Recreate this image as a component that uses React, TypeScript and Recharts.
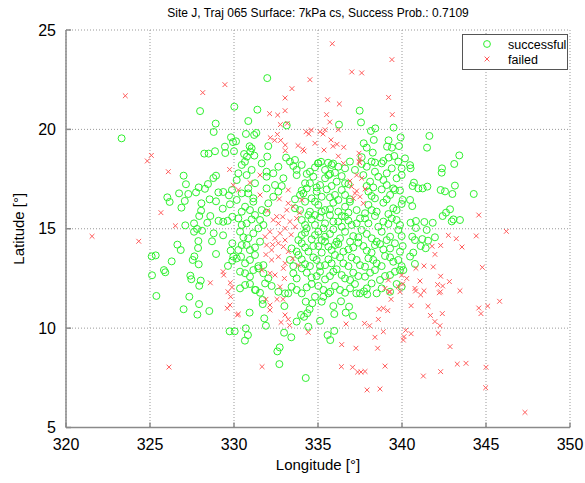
import React from "react";
import {
  ScatterChart,
  Scatter,
  XAxis,
  YAxis,
  CartesianGrid,
  Legend,
} from "recharts";

// [longitude, latitude]
const successfulOuter: [number, number][] = [
  [327.98,20.92],[330.02,21.14],[328.91,20.29],[328.79,19.87],[323.31,19.55],[329.82,19.6],[329.94,19.36],[329.46,19.13],[330.0,18.9],[328.23,18.78],[328.49,18.78],[328.87,18.9],[329.48,18.81],
  [331.98,22.58],[331.39,20.99],[337.48,20.94],[330.85,20.42],[337.56,20.35],[333.14,20.2],[336.25,20.24],[339.5,20.09],[330.71,19.77],[331.33,19.82],[331.2,19.72],[338.15,19.92],[338.41,20.05],[338.32,19.47],[339.2,19.45],[339.92,19.6],[330.12,19.4],[330.93,19.15],[331.05,19.05],[330.97,18.88],[332.04,19.16],[337.72,19.3],[337.9,19.08],[338.26,18.83],[339.11,19.13],[339.4,19.08],[339.82,19.16],[330.6,18.76],[330.77,18.63],[331.98,18.63],[333.1,18.58],[333.63,18.46],[330.65,18.37],[331.21,18.68],[337.6,18.6],[338.39,18.33],[338.89,18.41],[339.21,18.58],[339.54,18.66],[335.18,18.37],[335.0,18.3],[335.6,18.32],[335.9,18.28],
  [341.63,19.67],[341.49,19.08],[340.18,18.54],[343.41,18.69],[343.11,18.26],[340.48,18.2],
  [327.0,17.67],[327.14,17.24],[328.77,17.55],[328.93,17.67],[328.45,17.25],[327.9,17.08],[328.27,17.01],[327.74,16.83],[326.73,16.78],[326.03,16.58],[326.17,16.35],[327.28,16.75],[327.07,16.4],[326.87,16.06],[328.06,16.28],[328.55,16.48],[328.93,16.38],[329.36,16.85],[329.07,16.83],[329.7,16.68],[329.76,16.23],[329.88,16.95],[329.33,16.01],[328.04,15.91],[327.93,15.64],[328.59,15.64],[328.41,15.3],[327.62,15.27],[327.1,15.17],[327.8,14.99],[327.62,14.85],[328.1,14.9],[329.08,15.4],[329.36,15.35],[329.62,15.4],[328.79,14.77],[329.35,14.67],[328.69,14.37],[327.88,14.38],[327.86,14.03],[326.63,14.2],[326.83,13.93],[327.64,13.61],[327.54,13.43],[327.9,13.21],[326.29,13.36],[325.1,13.61],[325.34,13.66],[328.93,13.73],[325.83,12.92],[325.91,12.81],[325.12,12.66],[327.4,12.64],[327.46,12.46],[328.02,12.39],[327.93,12.13],[329.64,13.13],[325.38,11.62],[329.9,15.6],[329.9,14.27],[329.8,13.9],[329.96,13.6],[329.9,13.4],
  [327.34,11.58],[327.92,11.21],[327.0,10.95],[327.82,10.68],[328.53,10.86],[329.74,9.84],[330.04,9.84],
  [331.29,11.92],[331.71,11.21],[330.93,10.78],[331.8,10.49],[331.9,10.12],[330.7,9.99],[330.83,9.65],[330.65,9.37],[332.98,9.77],[333.41,9.54],[332.72,9.03],[332.58,8.83],[332.7,8.19],[334.27,7.49],[333.73,10.33],[333.99,10.66],[334.17,10.57],[334.42,10.07],[334.5,10.95],[334.27,11.33],[334.82,11.58],[334.66,11.25],[335.12,10.37],[335.22,11.33],[335.32,11.58],[335.57,9.65],[335.73,9.4],[335.97,9.86],[335.97,10.71],[335.91,11.11],[336.37,11.35],[336.65,10.78],[336.85,11.08],[337.08,10.61],[335.73,11.83],[337.28,11.75],[337.93,11.7],[337.74,11.85],[333.23,11.75],[334.36,10.75],[331.7,11.42],[333.0,11.11],
  [342.38,18.04],[342.36,17.82],[340.51,18.04],[340.71,17.32],[340.63,17.15],[340.97,17.03],[341.23,17.03],[341.51,17.12],[342.3,16.95],[342.56,16.88],[343.0,16.75],[343.15,17.17],[344.27,16.75],[340.04,16.45],[340.48,16.45],[340.61,16.14],[342.86,15.98],[342.62,15.81],[342.42,15.64],[343.06,15.47],[343.45,15.44],[342.96,15.37],[340.51,15.3],[340.83,15.39],[340.83,15.04],[341.33,15.34],[341.83,15.3],[341.47,14.94],[341.96,14.57],[340.61,14.6],[340.77,14.43],[341.21,14.48],[341.55,14.4],[341.11,14.13],[341.41,14.02],[340.04,14.13],[340.67,13.8],[340.48,13.6],[340.77,13.23],[340.08,12.92],
];

const successfulCore: [number, number][] = [
  [330.46,18.21],[331.05,17.96],[331.65,18.29],[331.94,17.87],[332.64,18.12],[333.33,18.38],[333.73,17.96],[334.03,18.21],[334.52,17.87],[335.02,18.29],[335.42,17.96],[335.81,18.21],[336.01,17.82],[336.61,18.04],[336.9,18.38],[337.9,18.12],[338.39,17.87],[338.79,18.29],[339.39,18.04],[339.78,18.38],
  [330.16,17.45],[330.75,17.7],[331.25,17.29],[331.94,17.62],[332.44,17.2],[332.94,17.54],[333.73,17.7],[334.23,17.29],[334.72,17.62],[335.12,17.2],[335.42,17.54],[335.71,17.76],[336.11,17.37],[336.41,17.65],[336.81,17.25],[337.7,17.7],[338.1,17.37],[338.59,17.62],[339.09,17.2],[339.68,17.54],[339.98,17.7],
  [330.46,16.78],[331.15,16.53],[331.94,17.03],[332.34,16.61],[332.64,16.87],[333.93,16.7],[334.33,17.03],[334.62,16.53],[334.92,16.87],[335.22,16.61],[335.52,16.98],[336.01,16.7],[336.41,16.95],[336.9,16.48],[338.0,16.87],[338.39,16.53],[338.79,16.98],[339.29,16.7],[339.88,16.92],
  [330.66,16.11],[331.15,16.36],[331.65,15.94],[332.04,16.28],[333.63,16.03],[334.23,16.36],[334.52,15.86],[335.02,16.2],[335.42,15.94],[335.91,16.31],[336.21,15.86],[336.61,16.11],[336.9,16.36],[337.3,15.94],[338.0,16.2],[338.49,15.86],[338.89,16.31],[339.48,16.03],[339.98,16.25],
  [330.26,15.52],[330.75,15.27],[331.25,15.69],[331.75,15.19],[334.03,15.44],[334.43,15.69],[334.82,15.19],[335.12,15.57],[335.42,15.27],[335.71,15.69],[336.21,15.36],[336.61,15.61],[337.0,15.19],[337.5,15.52],[338.0,15.27],[338.39,15.64],[338.89,15.36],[339.39,15.52],[339.88,15.19],
  [330.36,14.85],[330.85,14.52],[331.45,15.02],[334.03,14.68],[334.33,15.02],[334.62,14.47],[335.02,14.85],[335.42,14.6],[335.91,14.97],[336.31,14.52],[336.61,14.85],[337.1,14.63],[337.6,14.94],[338.2,14.52],[338.79,14.85],[339.29,14.6],[339.78,14.94],
  [330.46,14.18],[330.95,13.93],[331.55,14.35],[333.43,14.01],[334.03,14.27],[334.43,13.85],[335.02,14.13],[335.42,14.35],[335.81,13.93],[336.21,14.23],[336.81,13.96],[337.4,14.3],[337.9,13.9],[338.39,14.18],[338.89,13.96],[339.58,14.27],
  [330.16,13.51],[330.66,13.26],[331.25,13.68],[331.75,13.17],[333.33,13.43],[333.83,13.68],[334.23,13.22],[334.72,13.56],[335.12,13.12],[335.62,13.46],[336.01,13.68],[336.51,13.26],[337.0,13.56],[337.5,13.17],[338.0,13.51],[338.49,13.26],[338.99,13.63],[339.48,13.34],[339.98,13.12],
  [330.36,12.84],[330.95,12.59],[331.45,13.01],[332.04,12.5],[333.53,12.76],[334.03,13.01],[334.62,12.55],[335.12,12.84],[335.71,12.62],[336.11,12.96],[336.61,12.5],[337.1,12.79],[337.8,12.59],[338.39,12.92],[338.99,12.62],[339.58,12.84],
  [330.66,12.17],[331.25,11.92],[331.85,12.25],[332.64,11.83],[333.43,12.08],[334.03,11.75],[334.62,12.22],[335.32,11.92],[336.01,12.12],[336.61,11.78],[337.2,12.22],[337.9,12.0],[338.49,11.75],[339.68,12.22],
];

// second, denser layer in the middle of the cloud
const successfulDense: [number, number][] = [
  [330.26,17.79],[332.34,17.79],[333.53,18.16],[334.33,17.76],[334.82,18.09],[335.62,17.7],[336.21,18.12],[337.2,17.96],[337.6,18.26],[338.19,18.38],[339.09,17.79],[339.98,18.04],
  [330.85,17.03],[332.84,17.15],[334.03,16.92],[334.52,17.29],[334.92,17.08],[335.81,17.15],[336.61,17.29],[337.9,17.15],[338.29,17.08],[338.89,17.45],[339.48,17.03],
  [330.16,16.45],[330.85,16.78],[333.63,16.48],[334.13,16.78],[334.82,16.36],[335.71,16.58],[336.21,16.45],[336.61,16.7],[338.19,16.65],[339.09,16.48],[339.58,16.95],
  [330.46,15.86],[330.95,15.94],[331.94,15.81],[333.93,15.94],[334.82,15.69],[335.22,15.86],[335.71,15.98],[336.41,15.64],[336.81,15.81],[337.8,15.78],[338.19,15.94],[339.19,15.74],[339.68,15.94],
  [330.46,15.19],[331.05,15.47],[331.55,15.44],[334.23,15.19],[334.62,15.47],[335.32,15.02],[335.91,15.36],[336.41,15.1],[336.81,15.41],[337.3,15.27],[337.8,15.52],[338.59,15.1],[339.19,15.24],[339.68,15.44],
  [330.56,14.57],[331.15,14.77],[333.83,14.43],[334.23,14.8],[334.82,14.68],[335.22,14.43],[335.71,14.74],[336.11,14.35],[336.91,14.35],[337.4,14.57],[337.9,14.74],[338.49,14.35],[339.09,14.43],[339.98,14.63],
  [330.26,13.93],[330.75,14.18],[331.25,14.06],[333.73,13.85],[334.23,14.06],[334.72,14.13],[335.22,13.8],[335.62,14.1],[336.01,14.18],[336.51,13.85],[337.1,14.06],[337.7,14.13],[338.19,13.8],[338.69,14.23],[339.29,14.01],[339.88,13.85],
  [330.42,13.59],[330.95,13.43],[331.45,13.12],[333.53,13.12],[334.03,13.46],[334.52,13.12],[334.92,13.43],[335.42,13.17],[335.81,13.26],[336.31,13.56],[336.81,13.12],[337.3,13.43],[337.8,13.09],[338.29,13.43],[338.79,13.12],[339.29,13.56],[339.78,13.43],
  [330.66,12.76],[331.15,12.92],[331.75,12.76],[333.73,12.5],[334.33,12.79],[334.92,12.62],[335.42,12.45],[335.91,12.84],[336.41,12.67],[336.91,12.42],[337.4,12.62],[338.1,12.79],[338.69,12.42],[339.29,12.67],[339.88,12.92],
  [330.36,12.0],[330.95,12.22],[331.55,11.78],[332.24,12.12],[333.04,11.75],[333.73,11.92],[334.33,12.05],[335.02,12.12],[335.62,11.75],[336.31,11.92],[336.91,12.0],[337.5,11.75],[338.19,12.25],[338.79,12.0],[339.29,11.83],[339.98,12.08],
];

const failedOuter: [number, number][] = [
  [323.53,21.69],[328.14,21.85],[329.46,22.25],[325.08,18.69],[324.84,18.41],
  [335.85,24.31],[339.4,23.51],[337.01,22.89],[337.6,22.84],[334.52,22.5],[333.45,22.05],[333.04,21.58],[335.57,21.49],[336.27,21.28],[339.2,21.61],[332.12,20.79],[332.6,20.72],[333.04,20.94],[335.51,20.74],[339.42,20.74],[335.7,20.37],[332.76,20.24],[333.17,20.3],[335.42,19.98],[336.21,19.98],[334.29,19.88],[334.45,19.77],[334.6,19.97],[335.3,19.77],[335.12,19.88],[332.16,19.58],[332.58,19.75],[332.42,19.45],[332.78,19.45],[333.05,19.21],[333.05,18.93],[333.81,19.18],[334.09,19.0],[334.17,18.91],[334.82,19.3],[335.36,18.96],[335.77,19.47],[335.89,19.15],[336.13,19.25],[336.53,19.1],[337.44,18.8],[336.21,18.65],[337.5,18.53],[337.48,18.33],
  [326.09,17.87],[325.65,15.81],[326.51,15.15],[321.55,14.62],[324.33,14.37],[329.74,17.98],[329.96,17.19],[329.35,12.84],[329.39,12.67],[328.59,12.28],[329.78,12.28],[329.88,12.05],[329.64,11.83],
  [326.13,8.04],[329.8,11.58],[329.76,11.16],[329.6,11.0],[330.2,10.66],
  [331.67,8.06],[330.26,10.71],[331.9,11.45],[332.14,11.16],[332.14,10.91],[332.56,11.45],[332.92,11.45],[333.04,10.66],[333.23,10.44],[332.8,10.29],[333.31,10.14],[334.42,9.79],[336.67,10.21],[337.77,10.24],[338.07,10.12],[336.41,9.17],[337.26,8.99],[336.39,8.06],[337.06,8.03],[337.36,7.79],[337.56,7.79],[337.8,7.82],[337.92,6.89],[338.69,6.94],[338.99,8.09],[338.39,9.54],[338.55,8.99],[338.89,9.82],[338.59,10.44],[338.63,10.95],[338.89,11.0],[339.15,10.88],[339.23,11.83],[339.35,11.45],[339.88,11.83],[340.12,9.57],
  [340.81,11.87],[341.11,11.67],[342.22,11.78],[343.45,11.88],[340.54,11.13],[341.55,11.1],[341.69,10.64],[342.4,10.73],[344.57,11.01],[344.7,10.73],[345.1,11.11],[345.81,11.35],[341.96,10.33],[342.26,10.12],[342.16,9.75],[340.22,9.89],[340.54,9.72],[340.08,9.4],[342.86,9.07],[343.29,8.19],[343.81,8.23],[342.3,7.81],[341.27,7.59],[345.0,8.03],[344.98,7.0],[347.32,5.76],
  [344.57,15.69],[346.21,14.87],[342.76,14.67],[343.23,14.5],[344.42,14.64],[342.3,14.16],[341.79,14.12],[343.57,14.08],[341.96,13.71],[341.31,13.13],[341.86,13.08],[344.78,13.06],[340.83,13.01],[342.3,12.61],[342.82,12.34],[342.12,12.19],[342.42,12.12],[341.07,12.37],[340.77,12.0],[341.31,11.88],[342.29,11.83],[340.28,12.5],[340.04,12.22],
];

const failedCore: [number, number][] = [
  [336.51,18.29],[337.44,18.38],
  [330.95,17.32],[331.55,17.7],[330.26,16.95],[337.3,17.7],[337.6,17.54],[337.0,17.12],[336.9,17.4],[337.3,16.9],[337.8,17.0],
  [331.55,16.7],[333.23,16.95],[334.03,16.45],[337.2,16.78],[337.5,16.61],[337.7,16.28],[337.1,16.53],[332.7,16.5],
  [333.23,16.28],[333.14,15.94],[333.53,16.11],[332.54,15.61],[333.73,15.52],[332.0,15.9],[332.9,15.6],[333.9,15.8],
  [332.34,15.44],[332.64,15.27],[333.33,15.36],[333.63,15.1],
  [331.85,14.6],[332.14,14.85],[332.44,14.52],[332.74,14.77],[333.04,14.43],[333.04,15.02],[333.4,14.7],[332.3,14.2],
  [331.94,14.18],[332.24,13.93],[332.64,14.27],[333.23,13.85],[332.94,14.1],[333.5,13.5],[331.9,13.7],
  [332.24,13.43],[332.64,13.59],[333.04,13.26],[332.94,13.01],[333.83,13.17],[333.0,12.5],
  [331.65,12.92],[332.44,12.67],[332.14,12.76],[339.98,12.67],
  [332.74,12.08],[339.19,12.42],[338.99,12.0],[339.78,12.08],[339.29,11.83],
];

const xTicks = [320, 325, 330, 335, 340, 345, 350];
const yTicks = [5, 10, 15, 20, 25];

const toPoints = (arr: [number, number][]) => arr.map(([x, y]) => ({ x, y }));
const successful = toPoints([...successfulOuter, ...successfulCore, ...successfulDense]);
const failed = toPoints([...failedOuter, ...failedCore]);

const GREEN = "#2ef02e";
const RED = "#ff5a5a";
const FRAME = "#8a8a8a";
const FONT = "Liberation Sans, Arial, sans-serif";

const CircleMark = (props: any) => (
  <circle cx={props.cx} cy={props.cy} r={3.5} fill="none" stroke={GREEN} strokeWidth={1} />
);

const CrossMark = (props: any) => {
  const { cx, cy } = props;
  const s = 2.4;
  return (
    <g stroke={RED} strokeWidth={1}>
      <line x1={cx - s} y1={cy - s} x2={cx + s} y2={cy + s} />
      <line x1={cx - s} y1={cy + s} x2={cx + s} y2={cy - s} />
    </g>
  );
};

const LegendBox = () => (
  <svg width={106} height={36} style={{ display: "block" }}>
    <rect x={0.5} y={0.5} width={105} height={35} fill="#fff" stroke="#555" strokeWidth={1} />
    <circle cx={25} cy={10} r={3.4} fill="none" stroke={GREEN} />
    <g stroke={RED}>
      <line x1={22.6} y1={22.6} x2={27.4} y2={27.4} />
      <line x1={22.6} y1={27.4} x2={27.4} y2={22.6} />
    </g>
    <text x={46} y={14.5} fontSize={12.5} fontFamily={FONT} fill="#000">successful</text>
    <text x={46} y={29.5} fontSize={12.5} fontFamily={FONT} fill="#000">failed</text>
  </svg>
);

export default function App() {
  return (
    <div style={{ position: "absolute", left: 0, top: 0, width: 585, height: 483, background: "#fff" }}>
      <div
        style={{
          position: "absolute",
          left: 66,
          width: 504,
          top: 6,
          textAlign: "center",
          fontSize: 12,
          fontFamily: FONT,
          color: "#000",
        }}
      >
        Site J, Traj 065 Surface: 7kPa cs, Success Prob.: 0.7109
      </div>
      <ScatterChart
        width={585}
        height={483}
        margin={{ top: 30, right: 15, bottom: 25.5, left: 10 }}
      >
        <CartesianGrid xAxisId="b" yAxisId="l" stroke="#999" strokeDasharray="1 2" />
        <XAxis
          xAxisId="b"
          type="number"
          dataKey="x"
          domain={[320, 350]}
          ticks={xTicks}
          allowDataOverflow
          height={30}
          stroke={FRAME}
          strokeWidth={1.5}
          tickSize={-5}
          tickMargin={16}
          tick={{ fill: "#000", fontSize: 16, fontFamily: FONT }}
          label={{ value: "Longitude [°]", position: "bottom", offset: 2, fill: "#000", fontSize: 15, fontFamily: FONT }}
        />
        <XAxis
          xAxisId="t"
          orientation="top"
          type="number"
          dataKey="x"
          domain={[320, 350]}
          ticks={xTicks}
          allowDataOverflow
          height={0}
          stroke={FRAME}
          strokeWidth={1.5}
          tickSize={-5}
          tick={false}
        />
        <YAxis
          yAxisId="l"
          type="number"
          dataKey="y"
          domain={[5, 25]}
          ticks={yTicks}
          allowDataOverflow
          width={56}
          stroke={FRAME}
          strokeWidth={1.5}
          tickSize={-5}
          tickMargin={15}
          tick={{ fill: "#000", fontSize: 16, fontFamily: FONT }}
          label={{
            content: (p: any) => {
              const vb = p.viewBox || {};
              const cy = (vb.y || 0) + (vb.height || 0) / 2;
              return (
                <text
                  x={18}
                  y={cy}
                  transform={`rotate(-90, 18, ${cy})`}
                  textAnchor="middle"
                  dominantBaseline="central"
                  fontSize={15}
                  fontFamily={FONT}
                  fill="#000"
                >
                  Latitude [°]
                </text>
              );
            },
          }}
        />
        <YAxis
          yAxisId="r"
          orientation="right"
          type="number"
          dataKey="y"
          domain={[5, 25]}
          ticks={yTicks}
          allowDataOverflow
          width={0}
          stroke={FRAME}
          strokeWidth={1.5}
          tickSize={-5}
          tick={false}
        />
        <Scatter
          name="successful"
          data={successful}
          xAxisId="b"
          yAxisId="l"
          shape={CircleMark}
          isAnimationActive={false}
        />
        <Scatter
          name="failed"
          data={failed}
          xAxisId="b"
          yAxisId="l"
          shape={CrossMark}
          isAnimationActive={false}
        />
        <Legend
          layout="horizontal"
          verticalAlign="middle"
          align="center"
          content={() => <LegendBox />}
          wrapperStyle={{ position: "absolute", left: 462, top: 34, width: 106, height: 36 }}
        />
      </ScatterChart>
    </div>
  );
}
